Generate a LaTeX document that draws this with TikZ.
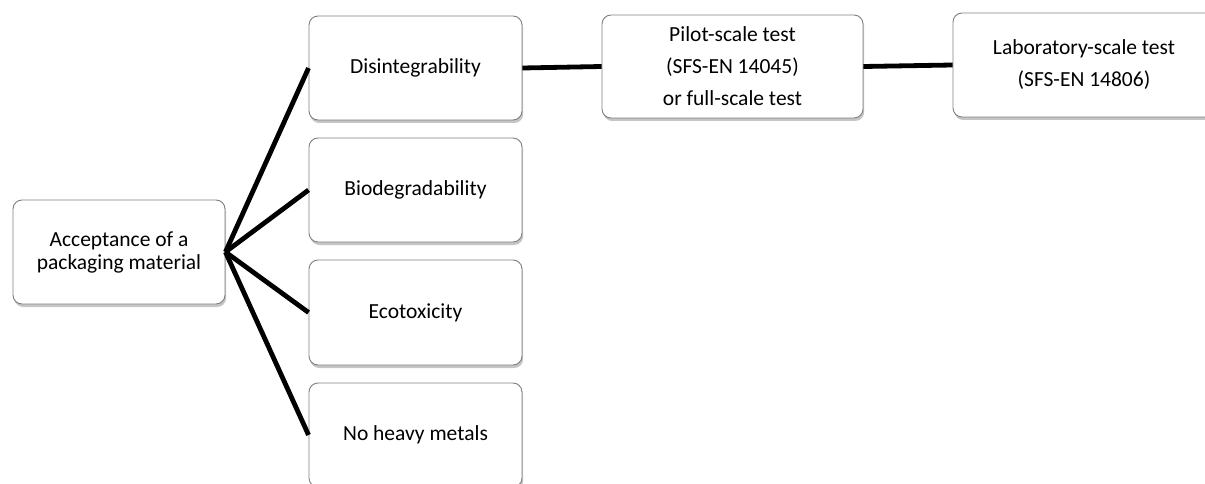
\documentclass[tikz,border=0pt]{standalone}
\usepackage{fontspec}
\setmainfont{Carlito}
\usetikzlibrary{shadows}
\begin{document}
\begin{tikzpicture}[x=1pt,y=-1pt,
  box/.style={draw=black!50, line width=0.9pt, fill=white, rounded corners=9pt,
    align=center, inner sep=0pt, text=black,
    drop shadow={shadow xshift=1.2pt, shadow yshift=-3pt, fill=black!45, opacity=0.5},
    font=\fontsize{21.5}{23}\selectfont},
  tallbox/.style={box, font=\fontsize{21.5}{32}\selectfont},
  link/.style={line width=4.8pt, black}]
\useasboundingbox (0,0) rectangle (1205,484);
\node[box, minimum width=212pt, minimum height=104pt] (acc) at (119,252) {Acceptance of a\\packaging material};
\node[box, minimum width=213pt, minimum height=104pt] (dis) at (415.5,68) {Disintegrability};
\node[box, minimum width=213pt, minimum height=104pt] (bio) at (415.5,190) {Biodegradability};
\node[box, minimum width=213pt, minimum height=105pt] (eco) at (415.5,312.5) {Ecotoxicity};
\node[box, minimum width=213pt, minimum height=104pt] (noh) at (415.5,435) {No heavy metals};
\node[tallbox, minimum width=261pt, minimum height=103pt] (pilot) at (732.5,66.5) {Pilot-scale test\\(SFS-EN 14045)\\or full-scale test};
\node[tallbox, minimum width=262pt, minimum height=104pt] (lab) at (1084,65) {Laboratory-scale test\\(SFS-EN 14806)};
\draw[link] (acc.east) -- (dis.west);
\draw[link] (acc.east) -- (bio.west);
\draw[link] (acc.east) -- (eco.west);
\draw[link] (acc.east) -- (noh.west);
\draw[link] (dis.east) -- (pilot.west);
\draw[link] (pilot.east) -- (lab.west);
\end{tikzpicture}
\end{document}
